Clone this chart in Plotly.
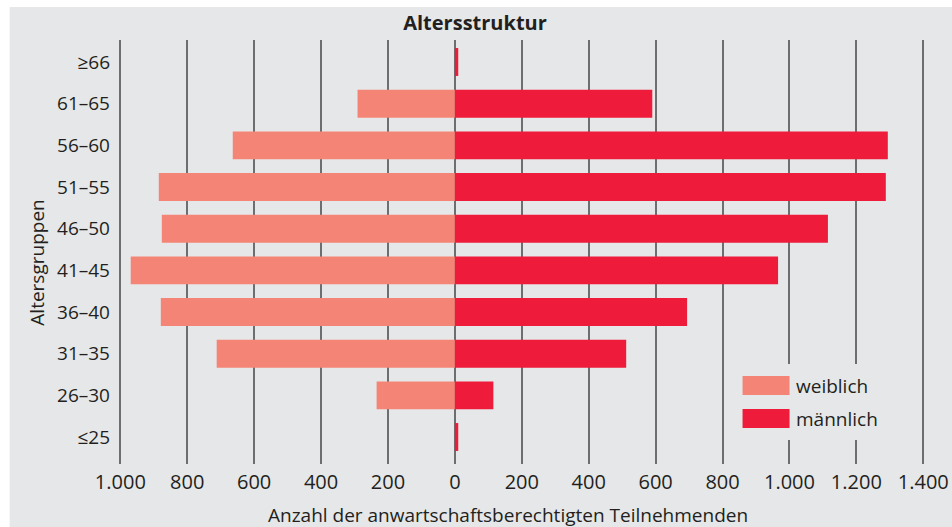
import plotly.graph_objects as go

age_groups = ["≤25", "26–30", "31–35", "36–40", "41–45", "46–50", "51–55", "56–60", "61–65", "≥66"]
weiblich = [0, 234, 712, 879, 969, 876, 885, 664, 291, 0]
maennlich = [10, 115, 512, 694, 966, 1115, 1288, 1294, 590, 10]
tick_values = [-1000, -800, -600, -400, -200, 0, 200, 400, 600, 800, 1000, 1200, 1400]
tick_labels = ["1.000", "800", "600", "400", "200", "0", "200", "400", "600", "800", "1.000", "1.200", "1.400"]

C_W = "#f48576"
C_M = "#ee1b3b"
BG = "#e6e7e8"
GRID = "#6d6e70"
TXT = "#231f20"
FONT = "Open Sans, Liberation Sans, sans-serif"

W, H = 952, 527
SCALE = 0.3346  # px per unit
X0, X1 = -1004, 1450
L = 455.3 + X0 * SCALE
R = W - (455.3 + X1 * SCALE)
T, B = 40, 63
pw, ph = W - L - R, H - T - B


def px(x):
    return (x - L) / pw


def py(y):
    return (H - B - y) / ph


fig = go.Figure()
fig.add_trace(go.Bar(y=age_groups, x=[-v for v in weiblich], orientation="h",
                     marker=dict(color=C_W, line=dict(width=0)), name="weiblich"))
fig.add_trace(go.Bar(y=age_groups, x=maennlich, orientation="h",
                     marker=dict(color=C_M, line=dict(width=0)), name="männlich"))

shapes = [
    dict(type="rect", xref="paper", yref="paper", x0=px(10), x1=px(960), y0=py(7), y1=py(540),
         fillcolor=BG, line=dict(width=0), layer="below"),
    # legend background covering gridlines
    dict(type="rect", xref="paper", yref="paper", x0=px(735), x1=px(900), y0=py(440), y1=py(364),
         fillcolor=BG, line=dict(width=0), layer="above"),
    dict(type="rect", xref="paper", yref="paper", x0=px(743), x1=px(790), y0=py(395), y1=py(376),
         fillcolor=C_W, line=dict(width=0), layer="above"),
    dict(type="rect", xref="paper", yref="paper", x0=px(743), x1=px(790), y0=py(428), y1=py(409),
         fillcolor=C_M, line=dict(width=0), layer="above"),
]
annotations = [
    dict(text="weiblich", xref="paper", yref="paper", x=px(794), y=py(386), xanchor="left",
         yanchor="middle", showarrow=False, font=dict(size=19, color=TXT, family=FONT)),
    dict(text="männlich", xref="paper", yref="paper", x=px(794), y=py(419), xanchor="left",
         yanchor="middle", showarrow=False, font=dict(size=19, color=TXT, family=FONT)),
    dict(text="Altersgruppen", xref="paper", yref="paper", x=px(37), y=py(263), xanchor="center",
         yanchor="middle", textangle=-90, showarrow=False, font=dict(size=19, color=TXT, family=FONT)),
    dict(text="Anzahl der anwartschaftsberechtigten Teilnehmenden", xref="paper", yref="paper",
         x=px(508), y=py(515), xanchor="center", yanchor="middle", showarrow=False,
         font=dict(size=19, color=TXT, family=FONT)),
]

fig.update_layout(
    width=W, height=H,
    margin=dict(l=L, r=R, t=T, b=B, autoexpand=False),
    paper_bgcolor="white", plot_bgcolor=BG,
    barmode="relative", bargap=0.33,
    showlegend=False,
    title=dict(text="<b>Altersstruktur</b>", xref="container", x=475 / W, xanchor="center",
               yref="container", y=1 - 23 / H, yanchor="middle",
               font=dict(size=20, color=TXT, family=FONT)),
    font=dict(family=FONT, size=19, color=TXT),
    shapes=shapes, annotations=annotations,
)
fig.update_xaxes(range=[X0, X1], tickvals=tick_values, ticktext=tick_labels, automargin=False,
                 showgrid=True, gridcolor=GRID, gridwidth=1.5, zeroline=False,
                 showline=False, ticks="", tickfont=dict(size=20), ticklabelstandoff=4)
fig.update_yaxes(type="category", categoryorder="array", categoryarray=age_groups, automargin=False,
                 range=[-0.648, 9.528], showgrid=False, zeroline=False, showline=False,
                 ticks="", ticklabelstandoff=8, tickfont=dict(size=19))

fig.write_html("out.html", config={"displayModeBar": False},
               post_script="document.body.style.margin='0';document.body.style.overflow='hidden';")
